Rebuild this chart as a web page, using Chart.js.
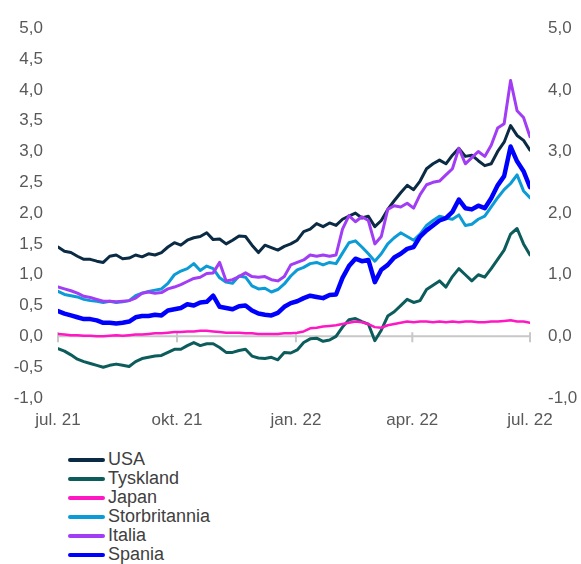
<!DOCTYPE html>
<html>
<head>
<meta charset="utf-8">
<script src="https://cdn.jsdelivr.net/npm/chart.js@4.4.4/dist/chart.umd.min.js"></script>
<style>
  body { margin: 0; background: #fff; font-family: 'Liberation Sans', Arial, sans-serif; }
  #wrap { position: relative; width: 581px; height: 564px; }
  #box { position: absolute; left: 0; top: 0; width: 581px; height: 440px; }
  #legend { position: absolute; left: 68px; top: 450px; }
  .item { height: 19px; display: flex; align-items: center; font-size: 18px; color: #404040; }
  .item span.sw { display: inline-block; width: 37px; height: 4px; border-radius: 2px; margin-right: 3px; }
</style>
</head>
<body>
<div id="wrap">
  <div id="box"><canvas id="chart"></canvas></div>
  <div id="legend"></div>
</div>
<script>
// ─── Data (days since 1 Jul 2021, every 5 days) ─────────────────────────────
const days = [0, 5, 10, 15, 20, 25, 30, 35, 40, 45, 50, 55, 60, 65, 70, 75, 80, 85, 90, 95,
  100, 105, 110, 115, 120, 125, 130, 135, 140, 145, 150, 155, 160, 165, 170, 175, 180, 185, 190, 195,
  200, 205, 210, 215, 220, 225, 230, 235, 240, 245, 250, 255, 260, 265, 270, 275, 280, 285, 290, 295,
  300, 305, 310, 315, 320, 325, 330, 335, 340, 345, 350, 355, 360, 365];

const tickDays   = [0, 92, 184, 274, 365];
const tickLabels = ['jul. 21', 'okt. 21', 'jan. 22', 'apr. 22', 'jul. 22'];

const usa = [1.45, 1.38, 1.36, 1.30, 1.25, 1.25, 1.22, 1.20, 1.30, 1.32,
  1.26, 1.27, 1.32, 1.29, 1.34, 1.32, 1.36, 1.45, 1.52, 1.48,
  1.56, 1.60, 1.62, 1.68, 1.57, 1.58, 1.50, 1.56, 1.63, 1.62,
  1.48, 1.36, 1.48, 1.44, 1.40, 1.46, 1.50, 1.56, 1.70, 1.74,
  1.83, 1.78, 1.84, 1.80, 1.90, 1.95, 2.00, 1.92, 1.95, 1.78,
  1.88, 2.06, 2.20, 2.33, 2.45, 2.38, 2.52, 2.72, 2.80, 2.86,
  2.80, 2.94, 3.05, 2.92, 2.94, 2.85, 2.77, 2.80, 3.00, 3.15,
  3.42, 3.26, 3.18, 3.02];

const tyskland = [-0.20, -0.24, -0.30, -0.37, -0.41, -0.44, -0.47, -0.50, -0.47, -0.45,
  -0.47, -0.49, -0.41, -0.36, -0.34, -0.32, -0.31, -0.26, -0.21, -0.21,
  -0.15, -0.10, -0.15, -0.12, -0.12, -0.18, -0.26, -0.26, -0.23, -0.21,
  -0.32, -0.35, -0.36, -0.34, -0.38, -0.26, -0.27, -0.22, -0.10, -0.04,
  -0.03, -0.08, -0.06, 0.00, 0.15, 0.27, 0.29, 0.24, 0.20, -0.07,
  0.10, 0.33, 0.40, 0.50, 0.60, 0.55, 0.58, 0.76, 0.83, 0.90,
  0.80, 0.97, 1.10, 1.00, 0.90, 1.00, 0.96, 1.10, 1.25, 1.40,
  1.66, 1.75, 1.50, 1.32];

const japan = [0.04, 0.03, 0.02, 0.02, 0.01, 0.01, 0.00, 0.00, 0.01, 0.02,
  0.01, 0.02, 0.03, 0.03, 0.04, 0.05, 0.05, 0.06, 0.07, 0.07,
  0.08, 0.08, 0.09, 0.09, 0.08, 0.07, 0.06, 0.06, 0.06, 0.05,
  0.05, 0.04, 0.04, 0.04, 0.04, 0.05, 0.05, 0.06, 0.08, 0.13,
  0.14, 0.16, 0.17, 0.18, 0.20, 0.22, 0.24, 0.23, 0.20, 0.15,
  0.14, 0.18, 0.20, 0.22, 0.24, 0.23, 0.24, 0.24, 0.23, 0.24,
  0.23, 0.24, 0.23, 0.24, 0.24, 0.23, 0.23, 0.24, 0.24, 0.25,
  0.26, 0.24, 0.24, 0.22];

const storbritannia = [0.73, 0.68, 0.66, 0.64, 0.60, 0.58, 0.57, 0.55, 0.57, 0.55,
  0.56, 0.58, 0.66, 0.70, 0.73, 0.75, 0.77, 0.86, 1.00, 1.06,
  1.10, 1.18, 1.07, 1.14, 1.10, 0.95, 0.88, 0.86, 0.98, 0.96,
  0.82, 0.77, 0.78, 0.72, 0.76, 0.85, 0.98, 1.08, 1.12, 1.18,
  1.20, 1.16, 1.20, 1.18, 1.35, 1.52, 1.55, 1.45, 1.34, 1.22,
  1.34, 1.50, 1.60, 1.68, 1.62, 1.56, 1.66, 1.80, 1.88, 1.95,
  1.92, 1.90, 1.97, 1.80, 1.82, 1.90, 1.95, 2.10, 2.25, 2.38,
  2.48, 2.62, 2.36, 2.25];

const italia = [0.80, 0.77, 0.74, 0.70, 0.65, 0.63, 0.60, 0.57, 0.57, 0.56,
  0.57, 0.58, 0.62, 0.70, 0.72, 0.70, 0.71, 0.77, 0.80, 0.84,
  0.89, 0.94, 0.96, 1.02, 1.03, 1.20, 0.90, 0.92, 0.97, 1.03,
  0.97, 0.96, 0.97, 0.92, 0.90, 0.97, 1.16, 1.20, 1.24, 1.32,
  1.30, 1.32, 1.30, 1.32, 1.74, 1.96, 1.86, 1.94, 1.88, 1.50,
  1.62, 2.06, 2.12, 2.10, 2.16, 2.08, 2.30, 2.46, 2.50, 2.52,
  2.62, 2.72, 3.05, 2.80, 2.90, 3.00, 2.92, 3.10, 3.38, 3.45,
  4.15, 3.66, 3.55, 3.24];

const spania = [0.41, 0.37, 0.34, 0.31, 0.28, 0.28, 0.26, 0.22, 0.22, 0.21,
  0.22, 0.24, 0.31, 0.33, 0.33, 0.35, 0.34, 0.42, 0.44, 0.46,
  0.52, 0.50, 0.55, 0.56, 0.66, 0.48, 0.46, 0.44, 0.49, 0.50,
  0.42, 0.37, 0.35, 0.34, 0.38, 0.48, 0.54, 0.57, 0.62, 0.66,
  0.64, 0.62, 0.67, 0.68, 0.95, 1.14, 1.26, 1.22, 1.24, 0.88,
  1.08, 1.16, 1.28, 1.34, 1.42, 1.45, 1.62, 1.72, 1.80, 1.88,
  1.92, 2.02, 2.22, 2.08, 2.06, 2.12, 2.08, 2.24, 2.45, 2.60,
  3.08, 2.84, 2.68, 2.42];

const seriesNames  = ['USA', 'Tyskland', 'Japan', 'Storbritannia', 'Italia', 'Spania'];
const seriesData   = [usa, tyskland, japan, storbritannia, italia, spania];
const seriesColors = ['#0b2b44', '#0d5c5c', '#ff17c4', '#0b9bd6', '#a13df5', '#0000ff'];
const seriesWidths = [3, 3, 2.5, 3, 3, 4.5];

// ─── Helpers ────────────────────────────────────────────────────────────────
const fmt = v => v.toFixed(1).replace('.', ',');
const TEXT = '#595959';
const FONT = { family: "'Liberation Sans', Arial, sans-serif", size: 17 };

// zero line with crossing tick marks (Excel style axis at y = 0)
const zeroAxis = {
  id: 'zeroAxis',
  beforeDatasetsDraw(chart) {
    const { ctx, chartArea, scales: { x, y } } = chart;
    const y0 = y.getPixelForValue(0);
    ctx.save();
    ctx.strokeStyle = '#c8c8c8';
    ctx.lineWidth = 2;
    ctx.beginPath();
    ctx.moveTo(chartArea.left, y0);
    ctx.lineTo(chartArea.right, y0);
    x.ticks.forEach(t => {
      const px = x.getPixelForValue(t.value);
      ctx.moveTo(px, y0 - 4);
      ctx.lineTo(px, y0 + 6);
    });
    ctx.stroke();
    ctx.restore();
  }
};

const datasets = seriesNames.map((name, i) => ({
  label: name,
  data: seriesData[i].map((v, j) => ({ x: days[j], y: v })),
  borderColor: seriesColors[i],
  borderWidth: seriesWidths[i],
  pointRadius: 0,
  tension: 0,
  borderJoinStyle: 'round',
  borderCapStyle: 'round',
  order: seriesNames.length - 1 - i,   // later series on top
  yAxisID: 'y',
}));

new Chart(document.getElementById('chart').getContext('2d'), {
  type: 'line',
  data: { datasets },
  plugins: [zeroAxis],
  options: {
    responsive: true,
    maintainAspectRatio: false,
    animation: false,
    layout: { padding: { top: 23, left: 0, right: 0, bottom: 0 } },
    plugins: { legend: { display: false }, tooltip: { enabled: false } },
    scales: {
      x: {
        type: 'linear',
        min: 0,
        max: 365,
        grid: { display: false, drawTicks: false },
        border: { display: false },
        afterBuildTicks: s => { s.ticks = tickDays.map(v => ({ value: v })); },
        afterFit: s => { s.height = 42; },
        ticks: {
          padding: 12,
          maxRotation: 0,
          autoSkip: false,
          color: TEXT,
          font: FONT,
          callback: v => tickLabels[tickDays.indexOf(v)],
        },
      },
      y: {
        position: 'left',
        min: -1,
        max: 5,
        grid: { display: false, drawTicks: false },
        border: { display: false },
        afterFit: s => { s.width = 58; },
        ticks: { stepSize: 0.5, padding: 15, color: TEXT, font: FONT, callback: fmt },
      },
      y2: {
        display: true,
        position: 'right',
        min: -1,
        max: 5,
        grid: { display: false, drawTicks: false },
        border: { display: false },
        afterFit: s => { s.width = 51; },
        ticks: { stepSize: 1, padding: 18, color: TEXT, font: FONT, callback: fmt },
      },
    },
  },
});

// ─── Legend (one column under the plot) ─────────────────────────────────────
const legend = document.getElementById('legend');
seriesNames.forEach((name, i) => {
  const row = document.createElement('div');
  row.className = 'item';
  row.innerHTML = `<span class="sw" style="background:${seriesColors[i]}"></span>${name}`;
  legend.appendChild(row);
});
</script>
</body>
</html>
